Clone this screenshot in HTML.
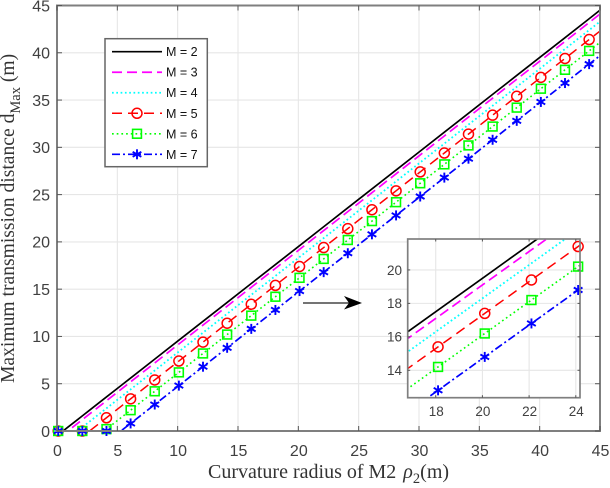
<!DOCTYPE html>
<html>
<head>
<meta charset="utf-8">
<title>Maximum transmission distance chart</title>
<style>
html,body{margin:0;padding:0;background:#fff;width:610px;height:488px;overflow:hidden;}
#chart{display:block;width:610px;height:488px;overflow:hidden;}
</style>
</head>
<body>
<svg id="chart" xmlns="http://www.w3.org/2000/svg" width="610" height="488" viewBox="0 0 610 488">
  <defs>
    <clipPath id="clip-main"><rect x="57" y="5.5" width="543" height="425.5"/></clipPath>
    <clipPath id="clip-inset"><rect x="407.7" y="239" width="172.3" height="158.7"/></clipPath>
  </defs>
  <g id="main-axes"></g>
  <g id="inset-axes"></g>
  <g>
    <line x1="303" y1="303" x2="350" y2="303" stroke="#222" stroke-width="1.2"/>
    <polygon points="362,303 344,296 349,303 344,309.5" fill="#000"/>
  </g>
  <g id="legend"></g>
  <text x="208" y="478" font-family="'Liberation Serif',serif" font-size="20" fill="#333">Curvature radius of M2 <tspan font-style="italic" dx="2">ρ</tspan><tspan font-size="14.5" dy="5">2</tspan><tspan dy="-5">(m)</tspan></text>
  <text transform="translate(14,383) rotate(-90)" font-family="'Liberation Serif',serif" font-size="19.6" fill="#333">Maximum transmission distance d<tspan font-size="14.5" dy="6">Max</tspan><tspan dy="-6"> (m)</tspan></text>
</svg>
<script>
var seriesNames = ['M = 2', 'M = 3', 'M = 4', 'M = 5', 'M = 6', 'M = 7'];
var lineX = [0.1,0.5,0.9,1.7,2.1,2.7,3.9,4.1,5.3,6.1,8.1,10.1,12.1,14.1,16.1,18.1,20.1,22.1,24.1,26.1,28.1,30.1,32.1,34.1,36.1,38.1,40.1,42.1,44.1,45];
var markerX = [0.1,2.1,4.1,6.1,8.1,10.1,12.1,14.1,16.1,18.1,20.1,22.1,24.1,26.1,28.1,30.1,32.1,34.1,36.1,38.1,40.1,42.1,44.1];
var valuesM2 = [0,0,0.4,1.2,1.6,2.2,3.4,3.6,4.8,5.6,7.6,9.6,11.6,13.6,15.6,17.6,19.6,21.6,23.6,25.6,27.6,29.6,31.6,33.6,35.6,37.6,39.6,41.6,43.6,44.5];
var valuesM3 = [0,0,0,0.8,1.2,1.8,3,3.2,4.4,5.2,7.2,9.2,11.2,13.2,15.2,17.2,19.2,21.2,23.2,25.2,27.2,29.2,31.2,33.2,35.2,37.2,39.2,41.2,43.2,44.1];
var valuesM4 = [0,0,0,0,0.4,1,2.2,2.4,3.6,4.4,6.4,8.4,10.4,12.4,14.4,16.4,18.4,20.4,22.4,24.4,26.4,28.4,30.4,32.4,34.4,36.4,38.4,40.4,42.4,43.3];
var valuesM5 = [0,0,0,0,0,0,1.2,1.4,2.6,3.4,5.4,7.4,9.4,11.4,13.4,15.4,17.4,19.4,21.4,23.4,25.4,27.4,29.4,31.4,33.4,35.4,37.4,39.4,41.4,42.3];
var valuesM6 = [0,0,0,0,0,0,0,0.2,1.4,2.2,4.2,6.2,8.2,10.2,12.2,14.2,16.2,18.2,20.2,22.2,24.2,26.2,28.2,30.2,32.2,34.2,36.2,38.2,40.2,41.1];
var valuesM7 = [0,0,0,0,0,0,0,0,0,0.8,2.8,4.8,6.8,8.8,10.8,12.8,14.8,16.8,18.8,20.8,22.8,24.8,26.8,28.8,30.8,32.8,34.8,36.8,38.8,39.7];
var mainXTicks = [0,5,10,15,20,25,30,35,40,45];
var mainYTicks = [0,5,10,15,20,25,30,35,40,45];
var insetXTicks = [18,20,22,24];
var insetYTicks = [14,16,18,20];

var allValues = [valuesM2, valuesM3, valuesM4, valuesM5, valuesM6, valuesM7];
var styles = [
  {color:'#000000', dash:'', width:1.7, marker:''},
  {color:'#ff00ff', dash:'10 5', width:1.7, marker:''},
  {color:'#00ffff', dash:'1.7 2.6', width:1.8, marker:''},
  {color:'#ff0000', dash:'10 6', width:1.5, marker:'circle'},
  {color:'#00ff00', dash:'1.7 3', width:1.6, marker:'square'},
  {color:'#0000ff', dash:'8 3 2 3', width:1.7, marker:'star'}
];
var NS = 'http://www.w3.org/2000/svg';
var FONT = "'Liberation Sans',sans-serif";

function mk(parent, tag, attrs, txt) {
  var e = document.createElementNS(NS, tag);
  for (var k in attrs) { e.setAttribute(k, attrs[k]); }
  if (txt !== undefined) { e.textContent = txt; }
  parent.appendChild(e);
  return e;
}

function drawMarker(parent, kind, px, py, color, size) {
  var g = mk(parent, 'g', {fill:'none', stroke:color});
  
  
  if (kind === 'circle') {
    mk(g, 'circle', {cx:px, cy:py, r:size, 'stroke-width':1.5});
  } else if (kind === 'square') {
    var s = size * 0.88;
    mk(g, 'rect', {x:px - s, y:py - s, width:2 * s, height:2 * s, 'stroke-width':1.6});
  } else if (kind === 'star') {
    var r = size;
    var dx = r * 0.87;
    var dy = r * 0.5;
    mk(g, 'line', {x1:px, y1:py - r, x2:px, y2:py + r, 'stroke-width':1.9});
    mk(g, 'line', {x1:px - dx, y1:py - dy, x2:px + dx, y2:py + dy, 'stroke-width':1.9});
    mk(g, 'line', {x1:px - dx, y1:py + dy, x2:px + dx, y2:py - dy, 'stroke-width':1.9});
  }
}

function drawAxes(root, box, dom, xTicks, yTicks, clipId, fontSize, tickLen, frameW, xLabelY, yLabelX) {
  function sx(v) { return box.l + (v - dom.x0) / (dom.x1 - dom.x0) * (box.r - box.l); }
  function sy(v) { return box.b - (v - dom.y0) / (dom.y1 - dom.y0) * (box.b - box.t); }

  var bg = mk(root, 'rect', {x:box.l, y:box.t, width:box.r - box.l, height:box.b - box.t, fill:'#fff'});
  
  

  xTicks.forEach(function (t) {
    var gl = mk(root, 'line', {x1:sx(t), y1:box.t, x2:sx(t), y2:box.b, stroke:'#e6e6e6', 'stroke-width':1.1});
    
    
  });
  yTicks.forEach(function (t) {
    var gl = mk(root, 'line', {x1:box.l, y1:sy(t), x2:box.r, y2:sy(t), stroke:'#e6e6e6', 'stroke-width':1.1});
    
    
  });

  allValues.forEach(function (vals, i) {
    var st = styles[i];
    var ptList = [];
    lineX.forEach(function (x, j) {
      if (x < dom.x0 - 2 || x > dom.x1 + 2) { return; }
      ptList.push(sx(x).toFixed(2) + ',' + sy(vals[j]).toFixed(2));
    });
    var pl = mk(root, 'polyline', {points:ptList.join(' '), fill:'none', stroke:st.color, 'stroke-width':st.width, 'clip-path':'url(#' + clipId + ')'});
    
    
    if (st.dash) { pl.setAttribute('stroke-dasharray', st.dash); }
  });

  allValues.forEach(function (vals, i) {
    var st = styles[i];
    if (!st.marker) { return; }
    lineX.forEach(function (x, j) {
      if (markerX.indexOf(x) < 0) { return; }
      if (x < dom.x0 || x > dom.x1 || vals[j] < dom.y0 || vals[j] > dom.y1) { return; }
      drawMarker(root, st.marker, sx(x), sy(vals[j]), st.color, 5);
    });
  });

  var frame = mk(root, 'rect', {x:box.l, y:box.t, width:box.r - box.l, height:box.b - box.t, fill:'none', stroke:'#7f7f7f', 'stroke-width':frameW});
  
  

  xTicks.forEach(function (t) {
    var tb = mk(root, 'line', {x1:sx(t), y1:box.b, x2:sx(t), y2:box.b - tickLen, stroke:'#555', 'stroke-width':1});
    
    
    var tt = mk(root, 'line', {x1:sx(t), y1:box.t, x2:sx(t), y2:box.t + tickLen, stroke:'#555', 'stroke-width':1});
    
    
    var lb = mk(root, 'text', {x:sx(t) + 0.5, y:xLabelY, 'text-anchor':'middle', 'font-family':FONT, 'font-size':fontSize, fill:'#404040'}, String(t));
    
    
  });
  yTicks.forEach(function (t) {
    var tl = mk(root, 'line', {x1:box.l, y1:sy(t), x2:box.l + tickLen, y2:sy(t), stroke:'#555', 'stroke-width':1});
    
    
    var tr = mk(root, 'line', {x1:box.r, y1:sy(t), x2:box.r - tickLen, y2:sy(t), stroke:'#555', 'stroke-width':1});
    
    
    var lb = mk(root, 'text', {x:yLabelX, y:sy(t) + fontSize * 0.36, 'text-anchor':'end', 'font-family':FONT, 'font-size':fontSize, fill:'#404040'}, String(t));
    
    
  });
}

drawAxes(document.getElementById('main-axes'),
  {l:57, r:600, t:5.5, b:431},
  {x0:0, x1:45, y0:0, y1:45},
  mainXTicks, mainYTicks, 'clip-main', 16, 5, 2, 456, 50);

drawAxes(document.getElementById('inset-axes'),
  {l:407.7, r:580, t:239, b:397.7},
  {x0:16.8, x1:24.18, y0:12.36, y1:21.85},
  insetXTicks, insetYTicks, 'clip-inset', 13.5, 2.5, 1.7, 416, 402);

var legendRoot = document.getElementById('legend');
var legendBox = mk(legendRoot, 'rect', {x:105, y:38.7, width:102.3, height:128, fill:'#fff', stroke:'#666', 'stroke-width':1.5});


seriesNames.forEach(function (name, i) {
  var st = styles[i];
  var y = 51.7 + i * 20.52;
  var entry = mk(legendRoot, 'g', {});
  
  
  var ln = mk(entry, 'line', {x1:112, y1:y, x2:162, y2:y, stroke:st.color, 'stroke-width':st.width});
  
  
  if (st.dash) { ln.setAttribute('stroke-dasharray', st.dash); }
  if (st.marker) { drawMarker(entry, st.marker, 137, y, st.color, 5); }
  var tx = mk(entry, 'text', {x:166, y:y + 4.5, 'font-family':FONT, 'font-size':12.5, fill:'#111'}, name);
  
  
});
</script>
</body>
</html>
